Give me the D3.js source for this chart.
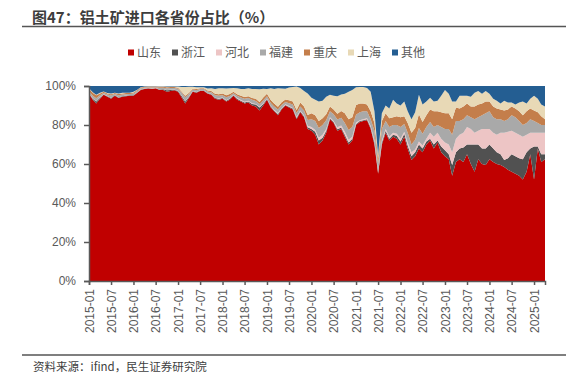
<!DOCTYPE html>
<html>
<head>
<meta charset="utf-8">
<script src="https://cdn.jsdelivr.net/npm/d3@7"></script>
<style>
  body { margin: 0; background: #fff; }
  svg { display: block; font-family: "Liberation Sans", "Noto Sans CJK SC", sans-serif; }
</style>
</head>
<body>
<div id="chart"></div>
<script>
// provinces, bottom to top
const provinces = ["山东", "浙江", "河北", "福建", "重庆", "上海", "其他"];
const colors = ["#C00000", "#515151", "#EDC5C5", "#A9A9A9", "#C47E4B", "#E8D9B6", "#245E92"];

// monthly, 2015-01 .. 2025-04 (share %)
const shandong = [
  96,93,91,93.5,95.5,94.5,93.5,95,93.8,94.5,94.8,95,
  95,96.5,98,98.5,98.7,98.5,98.8,98,98,97,97.5,97.8,
  97,94,91,94,97,96.5,97.5,97.5,96,95.5,93.5,93,
  93.5,92,93,95,93,92,91,91.5,90,89.5,87.5,90,
  93,89,87,85,88,90,89,88,83,86.5,84,78,
  77,75,70,72,76,83,81,77,78,74,70,72,
  80,81.5,82,82.5,78,70,55,70,76,72,74,73,
  70,74,68,62,64,68,66,70,72,68,71,66,
  64,62.5,54,61,62.5,61,65,60,56,62.5,60,59.5,
  62.5,61,60,59.5,58.5,57,56,55,54,52,56,65,
  52,68,61,62.5];
const zhejiang = [
  0.2,0.5,1,0.5,0.2,0.3,0.3,0.2,0.3,0.2,0.2,0.2,
  0.2,0.2,0.2,0.1,0.1,0.1,0.1,0.2,0.3,0.8,0.5,0.3,
  0.5,0.8,1,0.5,0.3,0.3,0.2,0.2,0.3,0.3,0.4,0.5,
  0.4,0.5,0.4,0.3,0.5,0.5,0.6,0.6,0.8,1,1.5,0.8,
  0.3,0.5,0.5,0.6,0.4,0.3,0.4,0.4,0.6,0.5,0.5,0.8,
  1,1.5,2,1.5,1,0.5,0.5,0.8,0.7,1,1,1,
  0.5,0.5,0.5,0.5,0.7,1,0.5,1,1,1,1,1.5,
  1.5,1.5,1.5,2,2,2,2,1.5,1,2,1,3,
  3,2.5,5.5,5,5.5,7.5,5,10,14,7.5,8,8.5,
  7.5,7,6,5.5,3.5,6,9,9,9,10.5,10,3,
  17,1,4,2.5];
const hebei = [
  0.1,0.2,0.2,0.2,0.1,0.1,0.1,0.1,0.1,0.1,0.1,0.1,
  0.1,0.1,0.1,0.1,0.1,0.1,0.1,0.1,0.1,0.1,0.1,0.1,
  0.1,0.2,0.2,0.2,0.1,0.1,0.1,0.1,0.1,0.1,0.1,0.2,
  0.2,0.2,0.2,0.2,0.3,0.3,0.3,0.3,0.3,0.3,0.3,0.3,
  0.3,0.3,0.3,0.5,0.3,0.3,0.3,0.3,0.6,0.5,0.5,0.8,
  1,1,1.5,1.5,1,0.5,0.5,1,1,1.5,1.5,1,
  0.8,0.5,0.5,0.5,0.8,1,0.5,1,1,1,1,1,
  1.5,1,1.5,2,1.5,1.5,1.5,1.5,3,4,4,4,
  4,5,6.5,7,7,7.5,9,8,6,7,10,10,
  8,8,9,11,14,13.5,12,12,12,11.5,9,8,
  7,7,11,11];
const fujian = [
  1,1.3,1.5,1,0.6,0.8,1.3,0.6,1,0.8,0.7,0.6,
  0.8,0.6,0.5,0.5,0.4,0.5,0.4,0.8,0.7,1,0.9,0.8,
  1,1.5,2,1.3,0.8,1,0.6,0.6,0.8,0.9,1.2,1.3,
  1.2,1.5,1.3,0.8,1.2,1.3,1.5,1.4,1.8,1.5,1.5,1.5,
  1.2,1.5,1.7,1.8,1.5,1.2,1.5,1.8,2,2,2.5,3,
  4,4.5,5,5,4.5,3,3.5,4,4,4.5,5,5,
  4,4,4,3.5,3.5,5,4,6,4,5,4,4.5,
  6,4,5,4,5,7,6,6,5.5,5,4,6,
  7,8,9,9,7,7,6,6,7,7,7,8,
  9,8,8,7,6,6.5,8,8,7,6,6,7,
  6,5,4,4];
const chongqing = [
  1.2,1.5,1.5,1,0.6,0.5,0.6,0.5,0.7,0.6,0.6,0.5,
  0.6,0.5,0.4,0.4,0.4,0.5,0.3,0.5,0.5,0.5,0.5,0.5,
  0.5,0.5,0.8,0.6,0.4,0.5,0.4,0.4,0.5,0.6,0.8,0.8,
  0.8,1,1,0.7,0.8,0.9,1,1,1,1.2,1,1.5,
  1.2,1.5,1.5,1.5,1.5,1.3,1.5,1.5,1.5,2,2,2.5,
  3,3,3.5,3.5,3,2.5,2.5,3,3.5,5,5.5,5,
  5,4.5,4,3.5,4,4,3,4,4,4.5,4,4.5,
  5,4,5,6,6,7,6,6,6.5,8,7,7.5,
  8,8,8,7,6.5,6.5,6,5.5,6.5,6.5,6,6,
  5,5.5,5.5,5,5.5,5,4.5,4.5,5,5,6,5.5,
  5.5,5.5,4.5,3];
const shanghai = [
  0.3,0.3,0.3,0.3,0.2,0.2,0.3,0.2,0.3,0.3,0.2,0.2,
  0.3,0.2,0.2,0.2,0.2,0.2,0.2,0.3,0.3,0.4,0.3,0.3,
  0.6,2.5,4.5,3,1,1,0.5,0.5,1,1.5,2.5,3,
  2.8,3.5,3,2,3,3.5,4,4,4.5,5,6.5,4.5,
  2.5,6,7.5,9.5,7,5.5,6.5,7.5,12,7.5,8,11,
  8,8,10,9,9,6,7,9,8.5,10,14,14,
  9,8.5,8.5,8.5,10,6,1.5,4,4,5,9,6.5,
  6,7.5,6,7,8,10,9,7,6,5,5.5,8.5,
  12,10,9,3,6.5,5.5,4,5,7,7,5,5.5,
  4,4,4,3,5,3.5,2,2,4.5,7,4,5,
  7.5,7,6,6.5];
const others = [
  1.2,3.2,4.5,3.5,2.8,3.6,3.9,3.4,3.8,3.5,3.4,3.4,
  3,1.9,0.6,0.2,0.1,0.1,0.1,0.1,0.1,0.2,0.2,0.2,
  0.3,0.5,0.5,0.4,0.4,0.6,0.7,0.7,1.3,1.1,1.5,1.2,
  1.1,1.3,1.1,1,1.2,1.5,1.6,1.2,1.6,1.5,1.7,1.4,
  1.5,1.2,1.5,1.1,1.3,1.4,0.8,0.5,0.3,1,2.5,3.9,
  6,7,8,7.5,5.5,4.5,5,5.2,4.3,4,3,2,
  0.7,0.5,0.5,1,3,13,35.5,14,10,11.5,7,9,
  10,8,13,17,13.5,4.5,9.5,8,6,8,7.5,5,
  2,4,8,8,5,5,5,5.5,3.5,2.5,4,2.5,
  4,6.5,7.5,9,7.5,8.5,8.5,9.5,8.5,8,9,6.5,
  5,6.5,9.5,10.5];

const seriesValues = [shandong, zhejiang, hebei, fujian, chongqing, shanghai, others];
const months = d3.timeMonth.range(new Date(2015, 0, 1), new Date(2025, 4, 1));
const yTicks = [0, 0.2, 0.4, 0.6, 0.8, 1];

function drawChart() {
    const width = 566, height = 377;
    const margin_left = 89, margin_right = 21, margin_top = 86, margin_bottom = 96;
    const textColor = "#595959";

    const svg = d3.select("#chart").append("svg")
        .attr("width", width)
        .attr("height", height);

    // title + rule
    svg.append("text")
        .attr("x", 32).attr("y", 23)
        .attr("font-size", 15).attr("font-weight", "bold")
        .attr("fill", "#3d3d3d")
        .attr("font-family", "'Noto Sans CJK SC', sans-serif")
        .text("图47：铝土矿进口各省份占比（%）");
    svg.append("line")
        .attr("x1", 22).attr("x2", width)
        .attr("y1", 26.5).attr("y2", 26.5)
        .attr("stroke", "#555").attr("stroke-width", 1.5);

    let table = months.map((m, i) => {
        let row = { date: m };
        provinces.forEach((p, j) => row[p] = seriesValues[j][i]);
        return row;
    });

    let stacked = d3.stack()
        .keys(provinces)
        .offset(d3.stackOffsetExpand)(table);

    let x_scale = d3.scaleTime()
        .domain([months[0], months[months.length - 1]])
        .range([margin_left, width - margin_right]);
    let y_scale = d3.scaleLinear()
        .domain([0, 1])
        .range([height - margin_bottom, margin_top]);

    let area = d3.area()
        .x(d => x_scale(d.data.date))
        .y0(d => y_scale(d[0]))
        .y1(d => y_scale(d[1]));

    svg.append("g")
        .selectAll("path")
        .data(stacked)
        .enter()
        .append("path")
        .attr("d", area)
        .attr("fill", (d, i) => colors[i]);

    // y axis
    let yAxis = svg.append("g")
        .attr("transform", "translate(" + margin_left + ",0)")
        .call(d3.axisLeft(y_scale).tickValues(yTicks).tickFormat(d3.format(".0%")).tickSize(5).tickPadding(8));
    yAxis.selectAll("text").attr("font-size", 12).attr("fill", textColor);

    // x axis
    let xAxis = svg.append("g")
        .attr("transform", "translate(0," + (height - margin_bottom) + ")")
        .call(d3.axisBottom(x_scale).ticks(d3.timeMonth.every(6)).tickFormat(d3.timeFormat("%Y-%m")).tickSize(4));
    xAxis.selectAll("text")
        .attr("font-size", 12).attr("fill", textColor)
        .style("text-anchor", "end")
        .attr("transform", "rotate(-90)")
        .attr("x", -8).attr("y", 0).attr("dy", "0.35em");

    svg.selectAll(".domain, .tick line").attr("stroke", textColor).attr("stroke-width", 1.5);

    // legend
    let legend = svg.append("g").attr("transform", "translate(128,53)");
    let item = legend.selectAll("g")
        .data(provinces)
        .enter()
        .append("g")
        .attr("transform", (d, i) => "translate(" + (i * 44) + ",0)");
    item.append("rect")
        .attr("x", 0).attr("y", -3.5)
        .attr("width", 6).attr("height", 6)
        .attr("fill", (d, i) => colors[i]);
    item.append("text")
        .attr("x", 9).attr("y", 0).attr("dy", "0.35em")
        .attr("font-size", 12).attr("fill", textColor)
        .attr("font-family", "'Noto Sans CJK SC', sans-serif")
        .text(d => d);

    // footer
    svg.append("line")
        .attr("x1", 22).attr("x2", width)
        .attr("y1", 355).attr("y2", 355)
        .attr("stroke", "#555").attr("stroke-width", 1.5);
    svg.append("text")
        .attr("x", 33).attr("y", 371)
        .attr("font-size", 11.5).attr("fill", "#404040")
        .attr("font-family", "'Noto Sans CJK SC', sans-serif")
        .text("资料来源：ifind，民生证券研究院");
}

drawChart();
</script>
</body>
</html>
